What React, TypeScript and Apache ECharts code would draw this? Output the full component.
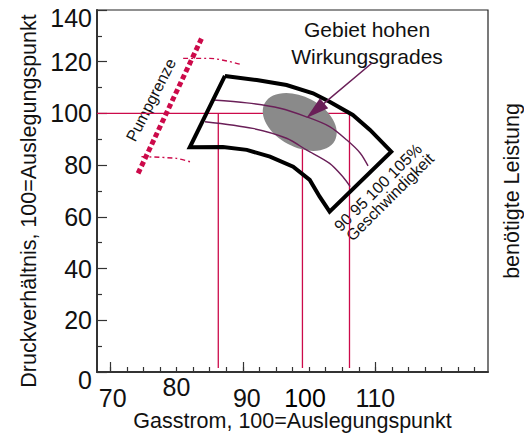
import React, { useEffect, useRef } from "react";
import * as echarts from "echarts";

// ---- axes ----
const X_MIN = 68;
const X_MAX = 127;
const Y_MIN = 0;
const Y_MAX = 140;
const Y_STEP = 20;
const xTickLabels = [70, 80, 90, 100, 110];
const xLongTicks = [70, 90, 110];
const xShortTicks = [70, 72.5, 75, 77.5, 80, 82.5, 85, 87.5, 90, 92.5, 95, 97.5, 100, 102.5, 105, 107.5, 110, 112.5, 115, 117.5, 120, 122.5, 125];

// ---- texts ----
const xTitle = "Gasstrom, 100=Auslegungspunkt";
const yTitle = "Druckverhältnis, 100=Auslegungspunkt";
const yRightTitle = "benötigte Leistung";
const regionText = "Gebiet hohen\nWirkungsgrades";
const surgeText = "Pumpgrenze";
const speedValuesText = "90 95 100 105%";
const speedText = "Geschwindigkeit";

// ---- operating map outline (90% bottom edge, 105% top edge) ----
const outlineX = [87.3, 92.1, 96.6, 100.6, 103.1, 106.6, 109.2, 112.4, 103.1, 101.6, 100.1, 97.6, 94.1, 90.6, 87.0, 82.0, 87.3];
const outlineY = [114.5, 112.9, 111.0, 107.8, 104.5, 99.4, 93.6, 85.2, 62.0, 67.8, 74.3, 79.4, 83.3, 85.9, 87.0, 86.9, 114.5];

// ---- speed lines ----
const speed100X = [85.5, 90.6, 95.6, 99.6, 103.1, 105.7, 107.7, 108.9];
const speed100Y = [105.2, 104.1, 102.0, 98.7, 94.9, 89.7, 84.7, 79.7];
const speed95X = [84.3, 91.5, 96.6, 99.6, 103.1, 105.1, 106.2];
const speed95Y = [96.8, 94.2, 90.4, 85.9, 80.7, 75.5, 71.7];

// ---- surge line and limits ----
const surgeX = [74.2, 83.9];
const surgeY = [76.8, 129.7];
const upperLimitX = [81.0, 85.0, 89.6];
const upperLimitY = [121.3, 121.3, 119.0];
const lowerLimitX = [74.7, 80.0, 82.3];
const lowerLimitY = [83.3, 82.6, 81.1];

// ---- design point reference lines ----
const designPressure = 100;
const flowMarks = [86.3, 99.0, 106.1];
const flowLineBottom = 1.5;

// ---- high efficiency region: centre x, centre y, semi-axis (x units), semi-axis (y units) ----
const effRegion = [98.6, 96.7, 6.0, 9.7];
// ---- arrow: from (x, y) to (x, y) ----
const arrowFromTo = [109.5, 119.5, 99.6, 98.2];

const FONT = "'Liberation Sans', Arial, Helvetica, sans-serif";
const CRIMSON = "#cc0a4a";
const PURPLE = "#6a1f58";

const zip = (xs: number[], ys: number[]) => xs.map((x, i) => [x, ys[i]]);

export default function App() {
  const ref = useRef<HTMLDivElement>(null);
  useEffect(() => {
    if (!ref.current) return;
    const chart = echarts.init(ref.current, null, { renderer: "svg" });

    const redSeries: any[] = [
      {
        type: "line",
        data: [[X_MIN, designPressure], [flowMarks[flowMarks.length - 1], designPressure]],
      },
      ...flowMarks.map((fx) => ({
        type: "line",
        data: [[fx, designPressure], [fx, flowLineBottom]],
      })),
    ].map((s) => ({
      ...s,
      symbol: "none",
      silent: true,
      z: 1,
      lineStyle: { color: CRIMSON, width: 1.3 },
    }));

    const tick = { fontSize: 25, fontFamily: FONT, color: "#111" };

    const option: any = {
      animation: false,
      textStyle: { fontFamily: FONT },
      grid: {
        left: 97,
        right: 36,
        top: 10,
        bottom: 64,
        show: true,
        borderColor: "#222",
        borderWidth: 1.2,
        containLabel: false,
        outerBoundsMode: "none",
      },
      xAxis: [
        {
          type: "value",
          min: X_MIN,
          max: X_MAX,
          position: "bottom",
          splitLine: { show: false },
          axisLine: { show: true, onZero: false, lineStyle: { color: "#333", width: 2 } },
          axisTick: {
            show: true,
            inside: true,
            length: 5,
            customValues: xShortTicks,
            lineStyle: { color: "#333", width: 1.2 },
          },
          axisLabel: {
            show: true,
            customValues: xTickLabels,
            margin: 2,
            ...tick,
            formatter: (v: number) => {
              if (v === 80) return `{hi|${v}}`;
              if (v === 90) return `{r|${v}}`;
              if (v === 70) return `{r2|${v}}`;
              if (v === 100) return `{l|${v}}`;
              return `{n|${v}}`;
            },
            rich: {
              hi: { ...tick, padding: [0, 0, 0, 0] },
              n: { ...tick, padding: [11, 0, 0, 0] },
              r: { ...tick, padding: [11, 0, 0, 8] },
              r2: { ...tick, padding: [11, 0, 0, 5] },
              l: { ...tick, color: "#000", padding: [11, 8, 0, 0] },
            },
          },
          name: xTitle,
          nameLocation: "middle",
          nameGap: 38,
          nameMoveOverlap: false,
          nameTextStyle: { fontSize: 21.5, lineHeight: 22, color: "#111", fontFamily: FONT },
        },
        {
          type: "value",
          min: X_MIN,
          max: X_MAX,
          position: "bottom",
          splitLine: { show: false },
          axisLine: { show: false, onZero: false },
          axisTick: {
            show: true,
            inside: true,
            length: 10,
            customValues: xLongTicks,
            lineStyle: { color: "#333", width: 1.2 },
          },
          axisLabel: { show: false },
        },
      ],
      yAxis: [
        {
          type: "value",
          min: Y_MIN,
          max: Y_MAX,
          interval: Y_STEP,
          position: "left",
          splitLine: { show: false },
          axisLine: { show: true, onZero: false, lineStyle: { color: "#333", width: 2 } },
          axisTick: { show: true, inside: true, length: 10, lineStyle: { color: "#333", width: 1.2 } },
          minorTick: { show: true, splitNumber: 2, length: 5, lineStyle: { color: "#333", width: 1.2 } },
          axisLabel: {
            margin: 5,
            ...tick,
            formatter: (v: number) => (v === 0 ? `{z|${v}}` : v === 140 ? `{t|${v}}` : `${v}`),
            rich: {
              z: { ...tick, padding: [16, 0, 0, 0] },
              t: { ...tick, padding: [15, 0, 0, 0] },
            },
          },
          name: yTitle,
          nameLocation: "middle",
          nameRotate: 90,
          nameGap: 57,
          nameMoveOverlap: false,
          nameTextStyle: { fontSize: 21.5, color: "#111", fontFamily: FONT, padding: [0, 20, 0, 0] },
        },
        {
          type: "value",
          min: Y_MIN,
          max: Y_MAX,
          position: "right",
          splitLine: { show: false },
          axisLine: { show: false },
          axisTick: { show: false },
          axisLabel: { show: false },
          name: yRightTitle,
          nameLocation: "middle",
          nameRotate: 90,
          nameGap: 13,
          nameMoveOverlap: false,
          nameTextStyle: { fontSize: 21.5, color: "#111", fontFamily: FONT },
        },
      ],
      series: [
        ...redSeries,
        {
          type: "custom",
          silent: true,
          z: 2,
          encode: { x: 0, y: 1 },
          data: [effRegion],
          renderItem: (params: any, api: any) => {
            const c = api.coord([api.value(0), api.value(1)]);
            const s = api.size([api.value(2), api.value(3)]);
            return {
              type: "ellipse",
              x: c[0],
              y: c[1],
              rotation: (-28 * Math.PI) / 180,
              shape: { cx: 0, cy: 0, rx: s[0], ry: s[1] },
              style: { fill: "#8a8a8a" },
            };
          },
        },
        {
          type: "line",
          data: zip(speed100X, speed100Y),
          smooth: 0.3,
          symbol: "none",
          silent: true,
          z: 3,
          lineStyle: { color: PURPLE, width: 1.4 },
        },
        {
          type: "line",
          data: zip(speed95X, speed95Y),
          smooth: 0.3,
          symbol: "none",
          silent: true,
          z: 3,
          lineStyle: { color: PURPLE, width: 1.4 },
        },
        {
          type: "line",
          data: zip(outlineX, outlineY),
          symbol: "none",
          silent: true,
          z: 4,
          lineStyle: { color: "#000", width: 4, join: "miter" },
        },
        {
          type: "line",
          data: zip(surgeX, surgeY),
          symbol: "none",
          silent: true,
          z: 4,
          lineStyle: { color: CRIMSON, width: 5, type: [5, 3] },
        },
        {
          type: "line",
          data: zip(upperLimitX, upperLimitY),
          smooth: 0.3,
          symbol: "none",
          silent: true,
          z: 4,
          lineStyle: { color: CRIMSON, width: 1.4, type: [5, 3, 2, 3] },
        },
        {
          type: "line",
          data: zip(lowerLimitX, lowerLimitY),
          smooth: 0.3,
          symbol: "none",
          silent: true,
          z: 4,
          lineStyle: { color: CRIMSON, width: 1.4, type: [5, 3, 2, 3] },
        },
        {
          type: "custom",
          silent: true,
          z: 5,
          encode: { x: [0, 2], y: [1, 3] },
          data: [arrowFromTo],
          renderItem: (params: any, api: any) => {
            const p0 = api.coord([api.value(0), api.value(1)]);
            const p1 = api.coord([api.value(2), api.value(3)]);
            const dx = p1[0] - p0[0];
            const dy = p1[1] - p0[1];
            const len = Math.hypot(dx, dy) || 1;
            const ux = dx / len;
            const uy = dy / len;
            const headLen = 23;
            const headW = 6.5;
            const bx = p1[0] - ux * headLen;
            const by = p1[1] - uy * headLen;
            return {
              type: "group",
              children: [
                {
                  type: "line",
                  shape: { x1: p0[0], y1: p0[1], x2: bx + ux * 2, y2: by + uy * 2 },
                  style: { stroke: PURPLE, lineWidth: 1.5 },
                },
                {
                  type: "polygon",
                  shape: {
                    points: [
                      [p1[0], p1[1]],
                      [bx - uy * headW, by + ux * headW],
                      [bx + uy * headW, by - ux * headW],
                    ],
                  },
                  style: { fill: PURPLE },
                },
              ],
            };
          },
        },
      ],
      graphic: [
        {
          type: "text",
          x: 367,
          y: 43,
          style: {
            text: regionText,
            align: "center",
            verticalAlign: "middle",
            fontSize: 21,
            lineHeight: 27,
            fontFamily: FONT,
            fill: "#111",
          },
        },
        {
          type: "text",
          x: 151,
          y: 100,
          rotation: (63 * Math.PI) / 180,
          style: {
            text: surgeText,
            align: "center",
            verticalAlign: "middle",
            fontSize: 16,
            fontFamily: FONT,
            fill: "#111",
          },
        },
        {
          type: "text",
          x: 378,
          y: 187.5,
          rotation: Math.PI / 4,
          style: {
            text: speedValuesText,
            align: "center",
            verticalAlign: "middle",
            fontSize: 16,
            fontFamily: FONT,
            fill: "#111",
          },
        },
        {
          type: "text",
          x: 390,
          y: 197,
          rotation: Math.PI / 4,
          style: {
            text: speedText,
            align: "center",
            verticalAlign: "middle",
            fontSize: 16,
            fontFamily: FONT,
            fill: "#111",
          },
        },
      ],
    };

    chart.setOption(option);
    return () => chart.dispose();
  }, []);

  return (
    <div
      ref={ref}
      style={{ position: "fixed", left: 0, top: 0, width: 524, height: 436, background: "#fff" }}
    />
  );
}
